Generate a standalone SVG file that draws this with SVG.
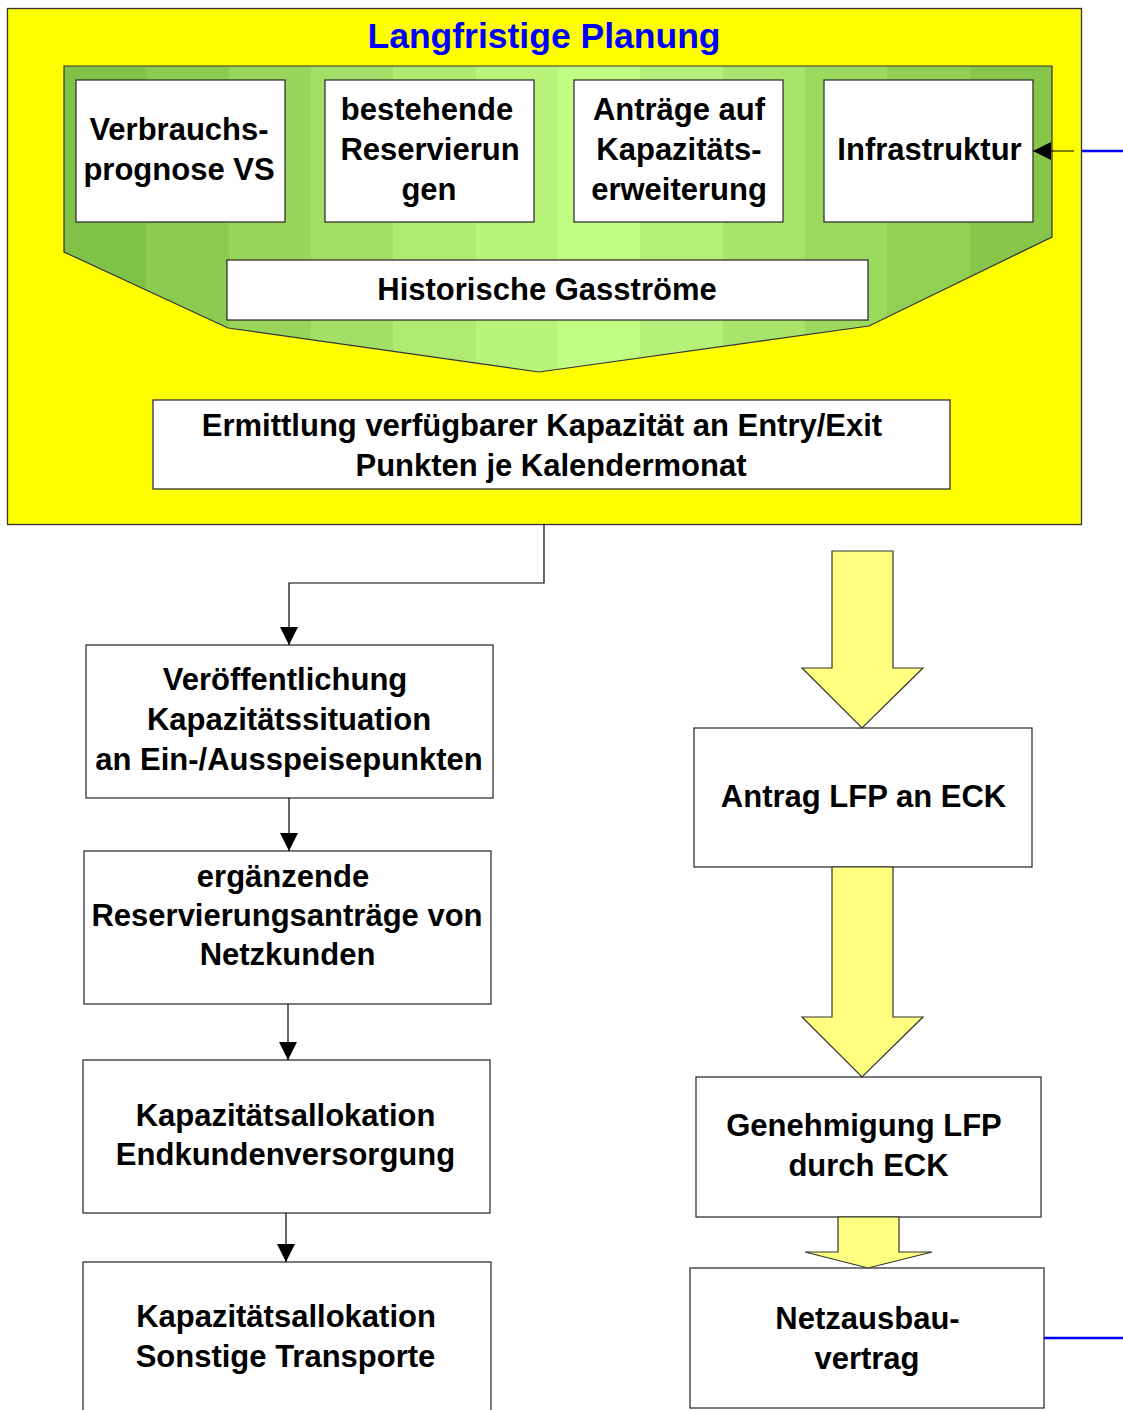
<svg xmlns="http://www.w3.org/2000/svg" width="1123" height="1410" viewBox="0 0 1123 1410">
<defs>
<style>
.box{fill:#ffffff;stroke:#333333;stroke-width:1.3}
.t{font-family:"Liberation Sans",Arial,sans-serif;font-weight:bold;font-size:31px;fill:#000000;text-anchor:middle}
.title{font-family:"Liberation Sans",Arial,sans-serif;font-weight:bold;font-size:35.5px;fill:#0000ff;text-anchor:middle}
.conn{fill:none;stroke:#000000;stroke-width:1.2}
.blue{fill:none;stroke:#0000ff;stroke-width:2.5}
.yarrow{fill:#ffff80;stroke:#333333;stroke-width:1.2}
</style>
<linearGradient id="bands" x1="64" y1="0" x2="1052" y2="0" gradientUnits="userSpaceOnUse">
<stop offset="0" stop-color="#7fc247"/><stop offset="0.0833" stop-color="#7fc247"/>
<stop offset="0.0833" stop-color="#8bcb4f"/><stop offset="0.1667" stop-color="#8bcb4f"/>
<stop offset="0.1667" stop-color="#97d65a"/><stop offset="0.25" stop-color="#97d65a"/>
<stop offset="0.25" stop-color="#a3df66"/><stop offset="0.3333" stop-color="#a3df66"/>
<stop offset="0.3333" stop-color="#afea71"/><stop offset="0.4167" stop-color="#afea71"/>
<stop offset="0.4167" stop-color="#b8f37a"/><stop offset="0.5" stop-color="#b8f37a"/>
<stop offset="0.5" stop-color="#c1fc83"/><stop offset="0.5833" stop-color="#c1fc83"/>
<stop offset="0.5833" stop-color="#b5f078"/><stop offset="0.6667" stop-color="#b5f078"/>
<stop offset="0.6667" stop-color="#a8e46c"/><stop offset="0.75" stop-color="#a8e46c"/>
<stop offset="0.75" stop-color="#9cd95f"/><stop offset="0.8333" stop-color="#9cd95f"/>
<stop offset="0.8333" stop-color="#91d052"/><stop offset="0.9167" stop-color="#91d052"/>
<stop offset="0.9167" stop-color="#88c64b"/><stop offset="1" stop-color="#88c64b"/>
</linearGradient>
<marker id="ah" viewBox="0 0 10 10" refX="10" refY="5" markerWidth="18" markerHeight="18" markerUnits="userSpaceOnUse" orient="auto">
<path d="M0,0 L10,5 L0,10 z" fill="#000000"/>
</marker>
</defs>

<g id="langfristige-planung">
<rect x="7.5" y="8.5" width="1074" height="516" fill="#ffff00" stroke="#333333" stroke-width="1.3"/>
<text class="title" x="544" y="48">Langfristige Planung</text>
</g>

<g id="input-area">
<polygon points="64,66 1052,66 1052,237 869,326 539,372 228,328 64,252" fill="url(#bands)" stroke="#333333" stroke-width="1.2"/>
</g>

<g id="verbrauchsprognose">
<rect class="box" x="76" y="80" width="209" height="142"/>
<text class="t" x="179" y="140">Verbrauchs-</text>
<text class="t" x="179" y="180">prognose VS</text>
</g>

<g id="bestehende-reservierungen">
<rect class="box" x="325" y="80" width="209" height="142"/>
<text class="t" x="427" y="120">bestehende</text>
<text class="t" x="430" y="160">Reservierun</text>
<text class="t" x="429" y="200">gen</text>
</g>

<g id="antraege-kapazitaetserweiterung">
<rect class="box" x="574" y="80" width="209" height="142"/>
<text class="t" x="679" y="120">Anträge auf</text>
<text class="t" x="679" y="160">Kapazitäts-</text>
<text class="t" x="679" y="200">erweiterung</text>
</g>

<g id="infrastruktur">
<rect class="box" x="824" y="80" width="209" height="142"/>
<text class="t" x="929.5" y="160">Infrastruktur</text>
</g>

<g id="historische-gasstroeme">
<rect class="box" x="227" y="260" width="641" height="60"/>
<text class="t" x="547" y="300">Historische Gasströme</text>
</g>

<g id="ermittlung">
<rect class="box" x="153" y="400" width="797" height="89"/>
<text class="t" x="542" y="436">Ermittlung verfügbarer Kapazität an Entry/Exit</text>
<text class="t" x="551" y="476">Punkten je Kalendermonat</text>
</g>

<g id="veroeffentlichung">
<rect class="box" x="86" y="645" width="407" height="153"/>
<text class="t" x="285" y="690">Veröffentlichung</text>
<text class="t" x="289" y="730">Kapazitätssituation</text>
<text class="t" x="289" y="770">an Ein-/Ausspeisepunkten</text>
</g>

<g id="ergaenzende-reservierungsantraege">
<rect class="box" x="84" y="851" width="407" height="153"/>
<text class="t" x="283" y="887">ergänzende</text>
<text class="t" x="287" y="926">Reservierungsanträge von</text>
<text class="t" x="287.5" y="965">Netzkunden</text>
</g>

<g id="allokation-endkunden">
<rect class="box" x="83" y="1060" width="407" height="153"/>
<text class="t" x="285.5" y="1126">Kapazitätsallokation</text>
<text class="t" x="285.5" y="1165">Endkundenversorgung</text>
</g>

<g id="allokation-sonstige">
<rect class="box" x="83" y="1262" width="408" height="160"/>
<text class="t" x="286" y="1327">Kapazitätsallokation</text>
<text class="t" x="285.5" y="1367">Sonstige Transporte</text>
</g>

<g id="antrag-lfp">
<rect class="box" x="694" y="728" width="338" height="139"/>
<text class="t" x="863.5" y="807">Antrag LFP an ECK</text>
</g>

<g id="genehmigung-lfp">
<rect class="box" x="696" y="1077" width="345" height="140"/>
<text class="t" x="864" y="1136">Genehmigung LFP</text>
<text class="t" x="868.5" y="1176">durch ECK</text>
</g>

<g id="netzausbauvertrag">
<rect class="box" x="690" y="1268" width="354" height="140"/>
<text class="t" x="867.5" y="1329">Netzausbau-</text>
<text class="t" x="867" y="1369">vertrag</text>
</g>

<g id="connectors">
<path class="conn" d="M544,524 V583 H289 V645" marker-end="url(#ah)"/>
<path class="conn" d="M289,798 V851" marker-end="url(#ah)"/>
<path class="conn" d="M288,1004 V1060" marker-end="url(#ah)"/>
<path class="conn" d="M286,1213 V1262" marker-end="url(#ah)"/>
<path class="conn" d="M1074,151 H1033" marker-end="url(#ah)"/>
<polygon class="yarrow" points="832,551 893,551 893,668 923,668 862,728 802,668 832,668"/>
<polygon class="yarrow" points="832,867 893,867 893,1017 923,1017 862,1077 802,1017 832,1017"/>
<polygon class="yarrow" points="838,1217 899,1217 899,1252 932,1252 868,1268 805,1252 838,1252"/>
<line class="blue" x1="1082" y1="151" x2="1123" y2="151"/>
<line class="blue" x1="1044" y1="1338" x2="1123" y2="1338"/>
</g>
</svg>
